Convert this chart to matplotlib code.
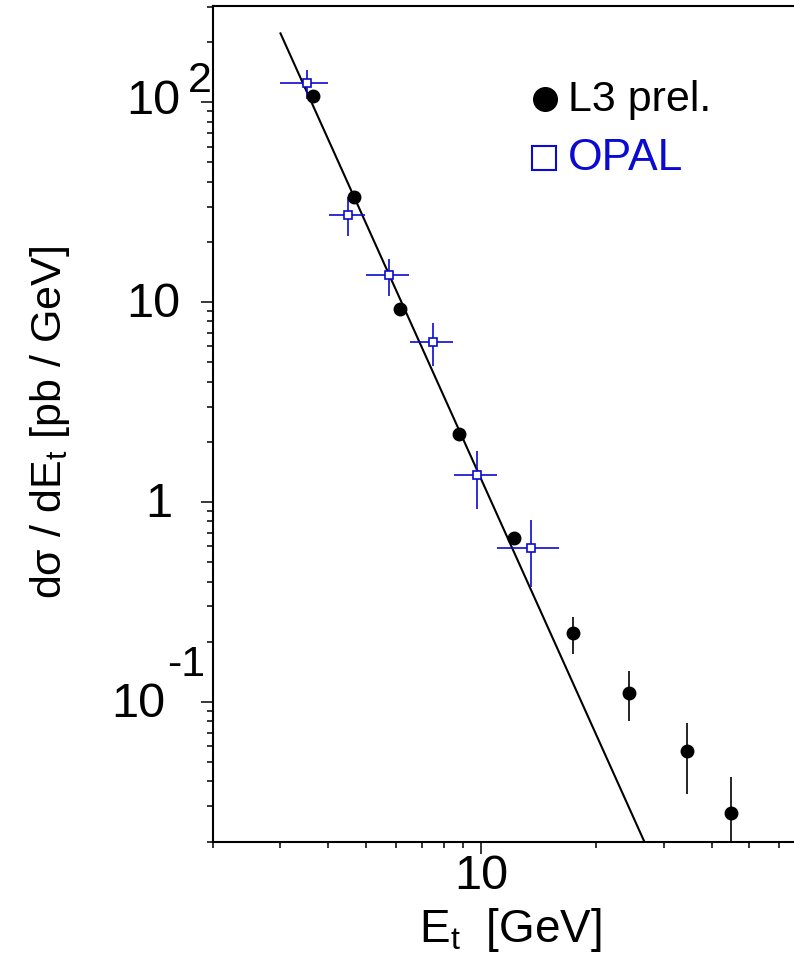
import matplotlib.pyplot as plt
import numpy as np
from matplotlib.ticker import FixedLocator, LogLocator, NullFormatter

plt.rcParams['font.family'] = ['Liberation Sans', 'DejaVu Sans']
plt.rcParams['mathtext.fontset'] = 'custom'
plt.rcParams['mathtext.rm'] = 'Liberation Sans'
plt.rcParams['mathtext.it'] = 'Liberation Sans:italic'

# L3 preliminary (filled circles), y errors as lower/upper bounds
l3_x = np.array([3.65, 4.67, 6.16, 8.78, 12.2, 17.4, 24.3, 34.4, 44.9])
l3_y = np.array([107, 33.4, 9.2, 2.2, 0.66, 0.22, 0.111, 0.057, 0.0277])
l3_lo = np.array([107, 33.4, 9.2, 2.2, 0.66, 0.173, 0.0798, 0.0345, 0.016])
l3_hi = np.array([107, 33.4, 9.2, 2.2, 0.66, 0.267, 0.142, 0.0788, 0.042])

# OPAL (open squares), bin edges in Et and y error bounds
opal_x = np.array([3.51, 4.50, 5.76, 7.51, 9.76, 13.5])
opal_y = np.array([125, 27.4, 13.6, 6.33, 1.36, 0.59])
opal_xlo = np.array([3.0, 4.01, 5.01, 6.52, 8.52, 11.03])
opal_xhi = np.array([3.99, 4.99, 6.50, 8.47, 10.99, 16.0])
opal_ylo = np.array([104, 21.4, 10.75, 4.79, 0.926, 0.377])
opal_yhi = np.array([145, 33.4, 16.5, 7.88, 1.79, 0.813])

# power-law fit line (end points)
fit_x = [3.0, 28.0]
fit_y = [221, 0.0163]

W, H = 794, 964
blue = '#0a0ad2'

fig = plt.figure(figsize=(W / 100, H / 100), dpi=100)
ax = fig.add_axes([213 / W, 1 - 842 / H, (W - 213) / W, (842 - 6) / H])
ax.set_xscale('log')
ax.set_yscale('log')
ax.set_xlim(2, 65.6)
ax.set_ylim(0.0199, 303)

ax.plot(fit_x, fit_y, color='black', lw=1.5, zorder=2)
ax.errorbar(opal_x, opal_y,
            xerr=[opal_x - opal_xlo, opal_xhi - opal_x],
            yerr=[opal_y - opal_ylo, opal_yhi - opal_y],
            fmt='s', ms=6, mfc='white', mec=blue, mew=1.2,
            ecolor=blue, elinewidth=1.2, capsize=0, zorder=3)
ax.errorbar(l3_x, l3_y, yerr=[l3_y - l3_lo, l3_hi - l3_y],
            fmt='o', ms=9, color='black', elinewidth=1.2, capsize=0, zorder=4)

for s in ax.spines.values():
    s.set_linewidth(1.5)
ax.spines['right'].set_visible(False)

ax.xaxis.set_major_locator(FixedLocator([10]))
ax.xaxis.set_minor_locator(LogLocator(subs=np.arange(2, 10)))
ax.xaxis.set_minor_formatter(NullFormatter())
ax.set_xticklabels(['10'], fontsize=35)
ax.yaxis.set_major_locator(FixedLocator([0.1, 1, 10, 100]))
ax.yaxis.set_minor_locator(LogLocator(subs=np.arange(2, 10)))
ax.yaxis.set_minor_formatter(NullFormatter())
ax.set_yticklabels([''] * 4)
ax.tick_params(which='both', direction='out', top=False, right=False, width=1.1)
ax.tick_params(which='major', length=8.6)
ax.tick_params(which='minor', length=4.3)
ax.tick_params(axis='x', pad=0)

# y tick labels in the ROOT style
ylabels = [(100, '10', -23.8, 0.5), (10, '10', -23.8, -2), (1, '1', -29.5, -2), (0.1, '10', -34.6, -2)]
for v, t, dx, dy in ylabels:
    ax.annotate(t, xy=(0, v), xycoords=('axes fraction', 'data'), xytext=(dx, dy),
                textcoords='offset points', ha='right', va='center', fontsize=35)
ax.annotate('2', xy=(0, 100), xycoords=('axes fraction', 'data'), xytext=(-18, 15),
            textcoords='offset points', ha='left', va='center', fontsize=31)
ax.annotate('-1', xy=(0, 0.1), xycoords=('axes fraction', 'data'), xytext=(-5.8, 26.6),
            textcoords='offset points', ha='right', va='center', fontsize=31)

fig.text(50 / W, 1 - 422 / H, 'd\u03c3 / dE$_{\\rm t}$ [pb / GeV]', rotation=90,
         ha='center', va='center', fontsize=31)
fig.text(510 / W, 1 - 930 / H, 'E$_{\\rm t}$  [GeV]', ha='center', va='center', fontsize=33)

# legend
ax.plot([(545 - 213) / 581], [(842 - 99) / 836], 'o', color='black', ms=17,
        transform=ax.transAxes, clip_on=False)
ax.plot([(544 - 213) / 581], [(842 - 158) / 836], 's', mfc='white', mec=blue, mew=1.5,
        ms=17, transform=ax.transAxes, clip_on=False)
ax.text((568 - 213) / 581, (842 - 100) / 836, 'L3 prel.', transform=ax.transAxes,
        ha='left', va='center', fontsize=31)
ax.text((568 - 213) / 581, (842 - 159) / 836, 'OPAL', transform=ax.transAxes,
        ha='left', va='center', fontsize=32, color=blue)

fig.savefig('out.png', dpi=100)
